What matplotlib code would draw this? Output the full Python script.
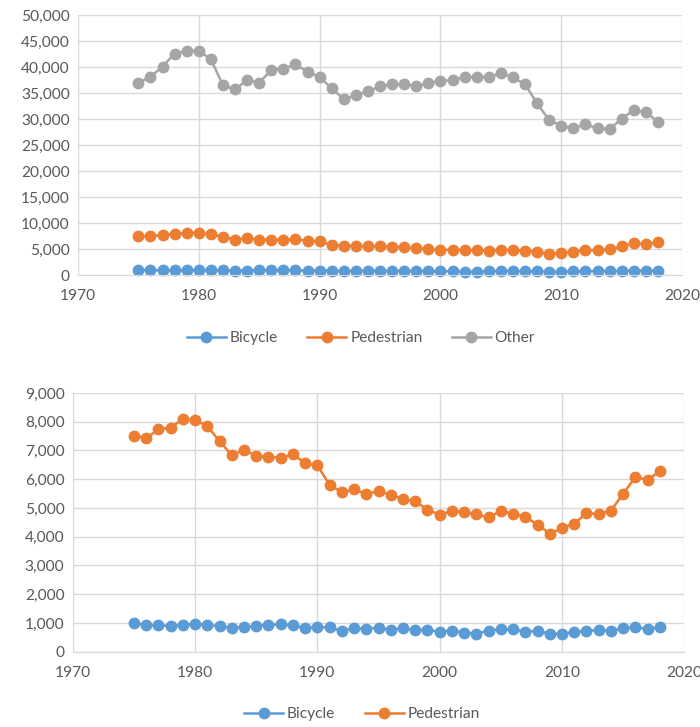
import matplotlib
matplotlib.use('Agg')
import matplotlib.pyplot as plt
from matplotlib.ticker import FuncFormatter, MultipleLocator

plt.rcParams['font.family'] = ['Lato', 'DejaVu Sans']

years = list(range(1975, 2019))

bicycle = [1003, 915, 922, 892, 932, 965, 936, 883, 839, 849,
           890, 941, 948, 911, 832, 859, 843, 723, 816, 802,
           833, 765, 814, 760, 754, 693, 732, 665, 629, 727,
           786, 772, 701, 718, 628, 623, 682, 734, 749, 729,
           818, 852, 783, 857]

pedestrian = [7516, 7427, 7732, 7795, 8096, 8070, 7837, 7331, 6826, 7025,
              6808, 6779, 6745, 6870, 6556, 6482, 5801, 5549, 5649, 5489,
              5584, 5449, 5321, 5228, 4939, 4763, 4901, 4851, 4774, 4675,
              4892, 4795, 4699, 4414, 4109, 4302, 4457, 4818, 4779, 4910,
              5494, 6080, 5977, 6283]

other = [36950, 38100, 40100, 42600, 43100, 43100, 41500, 36500, 35700, 37500,
         37000, 39400, 39700, 40500, 39100, 38100, 35900, 33800, 34600, 35300,
         36300, 36700, 36700, 36300, 36900, 37300, 37500, 38100, 38100, 38100,
         38800, 38000, 36700, 33000, 29800, 28700, 28200, 29000, 28200, 28000,
         30100, 31700, 31300, 29500]

BLUE = '#5B9BD5'
ORANGE = '#ED7D31'
GRAY = '#A5A5A5'
TXT = '#595959'
GRID = '#D9D9D9'
FS = 11.2


def style(ax, ymax, ystep):
    ax.set_xlim(1970, 2020)
    ax.set_ylim(0, ymax)
    ax.xaxis.set_major_locator(MultipleLocator(10))
    ax.yaxis.set_major_locator(MultipleLocator(ystep))
    ax.yaxis.set_major_formatter(FuncFormatter(lambda v, p: f'{int(v):,}'))
    ax.grid(True, color=GRID, linewidth=1.0)
    ax.set_axisbelow(True)
    for s in ['left', 'right', 'top']:
        ax.spines[s].set_visible(False)
    ax.spines['bottom'].set_color(GRID)
    ax.tick_params(length=0, labelsize=FS, colors=TXT)
    ax.tick_params(axis='x', pad=10)
    ax.tick_params(axis='y', pad=6)


def series(ax, y, color, label):
    ax.plot(years, y, color=color, marker='o', markersize=7.5,
            linewidth=1.8, label=label, clip_on=False)


fig = plt.figure(figsize=(7.0, 7.27), dpi=100)

ax1 = fig.add_axes([0.1114, 0.6217, 0.863, 0.3576])
series(ax1, bicycle, BLUE, 'Bicycle')
series(ax1, pedestrian, ORANGE, 'Pedestrian')
series(ax1, other, GRAY, 'Other')
style(ax1, 50000, 5000)
ax1.legend(loc='center', bbox_to_anchor=(361 / 700, 1 - 338 / 727),
           bbox_transform=fig.transFigure, ncol=3, frameon=False,
           fontsize=FS, labelcolor=TXT, handlelength=2.5,
           columnspacing=1.9, handletextpad=0.25)

ax2 = fig.add_axes([0.104, 0.1036, 0.8736, 0.3558])
series(ax2, bicycle, BLUE, 'Bicycle')
series(ax2, pedestrian, ORANGE, 'Pedestrian')
style(ax2, 9000, 1000)
ax2.legend(loc='center', bbox_to_anchor=(362 / 700, 1 - 714 / 727),
           bbox_transform=fig.transFigure, ncol=2, frameon=False,
           fontsize=FS, labelcolor=TXT, handlelength=2.5,
           columnspacing=1.9, handletextpad=0.25)

fig.savefig('out.png', dpi=100)
